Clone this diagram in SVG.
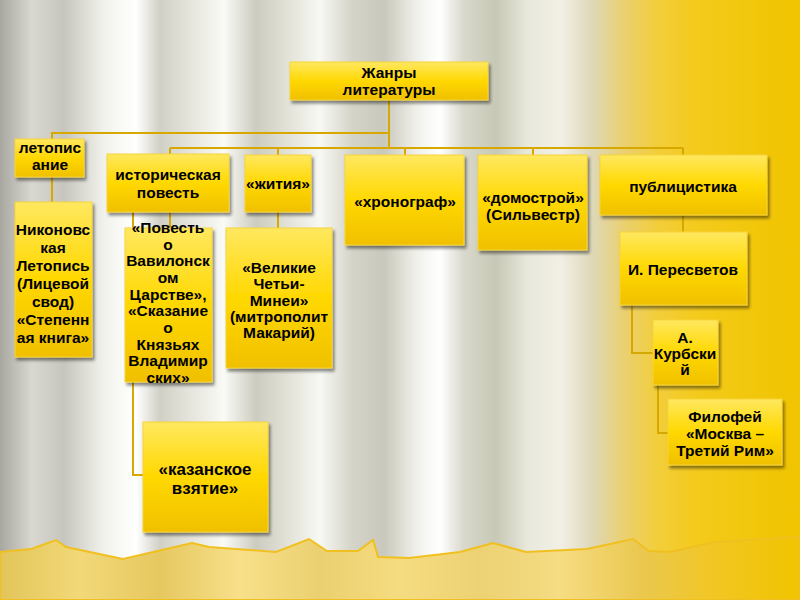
<svg xmlns="http://www.w3.org/2000/svg" width="800" height="600" viewBox="0 0 800 600">
<defs>
<linearGradient id="curtain" x1="0" y1="0" x2="1" y2="0">
<stop offset="0" stop-color="#A8A8A0"/>
<stop offset="0.04" stop-color="#D8D8D0"/>
<stop offset="0.08" stop-color="#C6C6BE"/>
<stop offset="0.13" stop-color="#F2F2EC"/>
<stop offset="0.17" stop-color="#FFFFFF"/>
<stop offset="0.20" stop-color="#D0D0C6"/>
<stop offset="0.24" stop-color="#E6E6DE"/>
<stop offset="0.28" stop-color="#FAFAF6"/>
<stop offset="0.32" stop-color="#CCCCC0"/>
<stop offset="0.36" stop-color="#E2E2D8"/>
<stop offset="0.40" stop-color="#F8F8F4"/>
<stop offset="0.44" stop-color="#D4D4C8"/>
<stop offset="0.48" stop-color="#C8C8BC"/>
<stop offset="0.52" stop-color="#F0F0EA"/>
<stop offset="0.55" stop-color="#FFFFFF"/>
<stop offset="0.58" stop-color="#D8D8CC"/>
<stop offset="0.62" stop-color="#C8C8B6"/>
<stop offset="0.66" stop-color="#E8E8DC"/>
<stop offset="0.70" stop-color="#F2F0E6"/>
<stop offset="0.74" stop-color="#DED8B8"/>
<stop offset="0.78" stop-color="#EAD070"/>
<stop offset="0.82" stop-color="#F2CE3C"/>
<stop offset="0.87" stop-color="#F4CA1C"/>
<stop offset="0.92" stop-color="#F2C810"/>
<stop offset="1" stop-color="#F0C400"/>
</linearGradient>
<linearGradient id="band" x1="0" y1="0" x2="1" y2="0">
<stop offset="0" stop-color="#E2C55A"/>
<stop offset="0.1" stop-color="#F2D878"/>
<stop offset="0.2" stop-color="#E6C860"/>
<stop offset="0.3" stop-color="#F8E08A"/>
<stop offset="0.4" stop-color="#EAD070"/>
<stop offset="0.5" stop-color="#F6DC80"/>
<stop offset="0.6" stop-color="#ECD274"/>
<stop offset="0.7" stop-color="#F6DC82"/>
<stop offset="0.8" stop-color="#EAC850"/>
<stop offset="0.9" stop-color="#F2C620"/>
<stop offset="1" stop-color="#F0C400"/>
</linearGradient>
<linearGradient id="box" x1="0" y1="0" x2="0" y2="1">
<stop offset="0" stop-color="#FFE860"/>
<stop offset="0.5" stop-color="#FFD800"/>
<stop offset="1" stop-color="#F0C000"/>
</linearGradient>
<filter id="sh" x="-10%" y="-10%" width="130%" height="130%">
<feDropShadow dx="2" dy="3" stdDeviation="1.5" flood-color="#000" flood-opacity="0.45"/>
</filter>
</defs>
<style>
.b{fill:url(#box);stroke:#F7D43A;stroke-width:1;filter:url(#sh)}
.t{font-family:"Liberation Sans",Arial,sans-serif;font-weight:bold;font-size:15.5px;fill:#000;text-anchor:middle}
.c{fill:none;stroke:#D6A800;stroke-width:2}
</style>
<rect x="0" y="0" width="800" height="600" fill="url(#curtain)"/>
<path d="M0,552 L31,549 L56,540 L66,547 L123,559 L192,543 L209,547 L276,552 L309,539 L327,551 L358,551 L373,540 L378,557 L409,558 L460,552 L493,543 L526,552 L587,549 L633,539 L649,551 L669,552 L715,542 L800,537 L800,600 L0,600 Z" fill="url(#band)" stroke="#F0C020" stroke-width="2"/>
<g id="connectors" class="c">
<path d="M389,100 V148"/>
<path d="M389,133 H52 V139"/>
<path d="M52,177 V202"/>
<path d="M170,148 H683"/>
<path d="M170,148 V154"/>
<path d="M278,148 V155"/>
<path d="M405,148 V155"/>
<path d="M533,148 V155"/>
<path d="M683,148 V155"/>
<path d="M170,212 V228"/>
<path d="M133,212 V475 H143"/>
<path d="M278,212 V228"/>
<path d="M683,215 V232"/>
<path d="M632,305 V353 H653"/>
<path d="M658,385 V433 H668"/>
</g>
<g id="n0"><rect class="b" x="290" y="62" width="198" height="38"/><text class="t" x="389" y="78">Жанры</text><text class="t" x="389" y="95">литературы</text></g>
<g id="n1"><rect class="b" x="15" y="139" width="69" height="38"/><text class="t" x="50" y="153">летопис</text><text class="t" x="50" y="170">ание</text></g>
<g id="n2"><rect class="b" x="15" y="202" width="77" height="155"/>
<text class="t" x="53" y="235">Никоновс</text><text class="t" x="53" y="253">кая</text><text class="t" x="53" y="271">Летопись</text><text class="t" x="53" y="289">(Лицевой</text><text class="t" x="53" y="307">свод)</text><text class="t" x="53" y="325">«Степенн</text><text class="t" x="53" y="343">ая книга»</text></g>
<g id="n3"><rect class="b" x="107" y="154" width="122" height="58"/><text class="t" x="168" y="180">историческая</text><text class="t" x="168" y="198">повесть</text></g>
<g id="n4"><rect class="b" x="245" y="155" width="66" height="57"/><text class="t" x="278" y="189">«жития»</text></g>
<g id="n5"><rect class="b" x="345" y="155" width="119" height="90"/><text class="t" x="405" y="207">«хронограф»</text></g>
<g id="n6"><rect class="b" x="478" y="155" width="109" height="95"/><text class="t" x="533" y="203">«домострой»</text><text class="t" x="533" y="220">(Сильвестр)</text></g>
<g id="n7"><rect class="b" x="600" y="155" width="167" height="60"/><text class="t" x="683" y="192">публицистика</text></g>
<g id="n8"><rect class="b" x="125" y="228" width="87" height="154"/>
<text class="t" x="168" y="233">«Повесть</text><text class="t" x="168" y="250">о</text><text class="t" x="168" y="266">Вавилонск</text><text class="t" x="168" y="283">ом</text><text class="t" x="168" y="300">Царстве»,</text><text class="t" x="168" y="316">«Сказание</text><text class="t" x="168" y="333">о</text><text class="t" x="168" y="350">Князьях</text><text class="t" x="168" y="366">Владимир</text><text class="t" x="168" y="383">ских»</text></g>
<g id="n9"><rect class="b" x="226" y="228" width="106" height="140"/>
<text class="t" x="279" y="273">«Великие</text><text class="t" x="279" y="289">Четьи-</text><text class="t" x="279" y="306">Минеи»</text><text class="t" x="279" y="322">(митрополит</text><text class="t" x="279" y="338">Макарий)</text></g>
<g id="n10"><rect class="b" x="143" y="422" width="125" height="110"/><text class="t" x="205" y="475" style="font-size:17px">«казанское</text><text class="t" x="205" y="494" style="font-size:17px">взятие»</text></g>
<g id="n11"><rect class="b" x="620" y="232" width="127" height="73"/><text class="t" x="683" y="275">И. Пересветов</text></g>
<g id="n12"><rect class="b" x="653" y="320" width="65" height="65"/><text class="t" x="685" y="343">А.</text><text class="t" x="685" y="359">Курбски</text><text class="t" x="685" y="375">й</text></g>
<g id="n13"><rect class="b" x="668" y="399" width="114" height="66"/><text class="t" x="725" y="422">Филофей</text><text class="t" x="725" y="439">«Москва –</text><text class="t" x="725" y="456">Третий Рим»</text></g>
</svg>
